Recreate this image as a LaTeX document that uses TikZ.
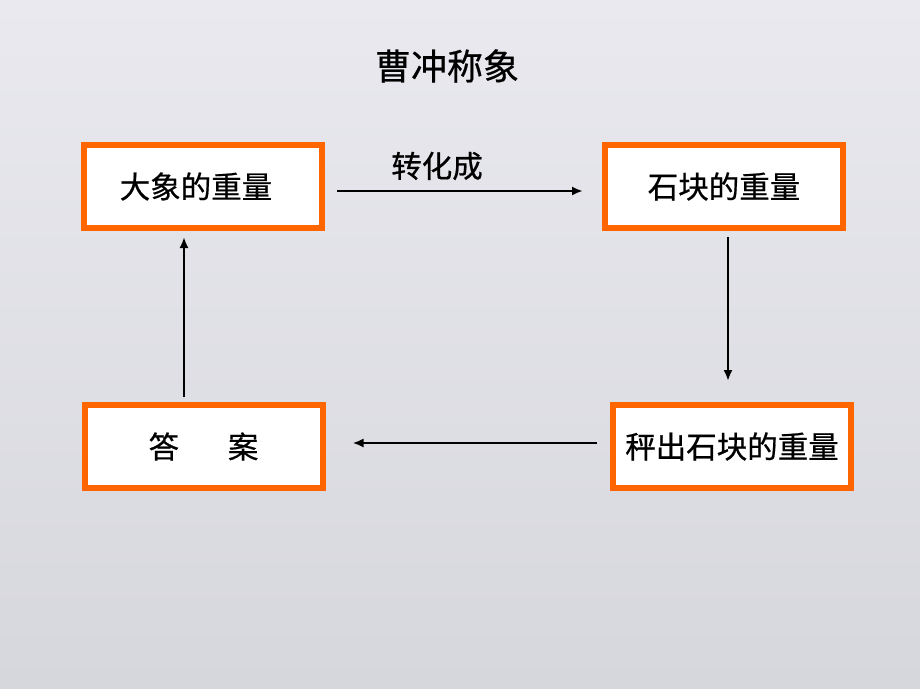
\documentclass[tikz,border=0pt]{standalone}
\usepackage{fontspec}
\newfontfamily\cjk[FakeBold=0.6]{Noto Sans CJK SC}
\usepackage{tikz}
\usetikzlibrary{arrows.meta}
\definecolor{boxorange}{RGB}{255,102,0}
\definecolor{bgtop}{RGB}{233,233,239}
\definecolor{bgbottom}{RGB}{214,215,221}

\begin{document}
\begin{tikzpicture}
  [x=1pt,y=-1pt,every node/.style={font=\cjk\fontsize{30.5}{34}\selectfont}]
 \tikzset{stage/.style = {draw=boxorange,line width=6pt,fill=white,
                          minimum width=238pt,minimum height=83pt,inner sep=0pt},
          edge/.style = {->,> = {Latex[length=11pt,width=9pt]},line width=2.3pt}}
  % background and page size
  \shade[top color=bgtop,bottom color=bgbottom] (0,0) rectangle (920,688);
  \useasboundingbox (0,0) rectangle (920,688);

  \node (title) at (447,66) {\fontsize{36}{40}\selectfont 曹冲称象};
  \node[stage] (elephant) at (203,186.5) {\hspace*{-14pt}大象的重量};
  \node[stage] (stone)    at (724,186.5) {石块的重量};
  \node[stage] (weigh)    at (732,446.5) {秤出石块的重量};
  \node[stage] (answer)   at (203.5,446.5) {答\hspace{1.6em}案};
  \node (turn) at (437,166) {转化成};

  \draw[edge,shorten <=12pt,shorten >=19pt]
    ([yshift=-4.5pt]elephant.east) -- ([yshift=-4.5pt]stone.west);
  \draw[edge,shorten <=6pt,shorten >=21pt]
    ([xshift=4pt]stone.south) -- ([xshift=4pt]stone.south |- weigh.north);
  \draw[edge,shorten <=13pt,shorten >=27pt]
    ([yshift=3.5pt]weigh.west) -- ([yshift=3.5pt]weigh.west -| answer.east);
  \draw[edge,shorten <=5pt,shorten >=6pt]
    ([xshift=-19.5pt]answer.north) -- ([xshift=-19.5pt]answer.north |- elephant.south);

\end{tikzpicture}
\end{document}
